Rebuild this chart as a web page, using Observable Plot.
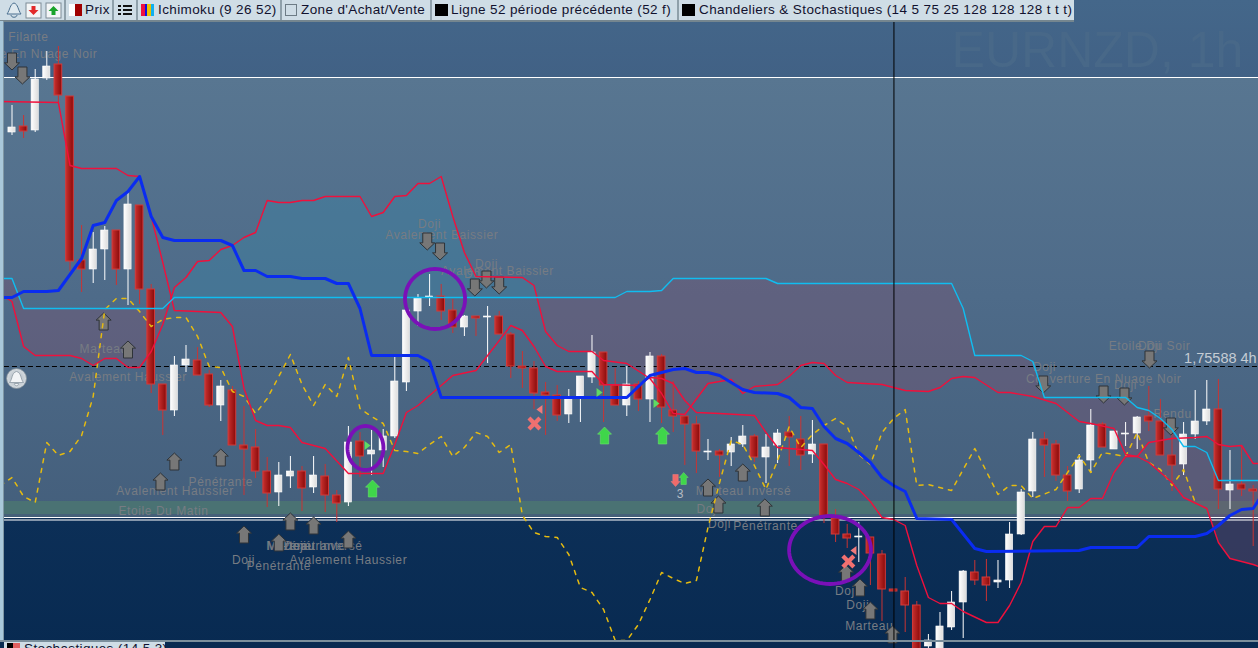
<!DOCTYPE html>
<html><head><meta charset="utf-8">
<script src="https://cdn.jsdelivr.net/npm/d3@7"></script>
<script src="https://cdn.jsdelivr.net/npm/@observablehq/plot@0.6"></script>
<style>
html,body{margin:0;padding:0;width:1258px;height:648px;overflow:hidden;background:#0a2c54;font-family:"Liberation Sans",Arial,sans-serif}
#wrap{position:relative;width:1258px;height:648px;overflow:hidden}
#wrap>svg{position:absolute;left:0;top:0;display:block}
.bar{position:absolute;left:0;top:0;width:1074px;height:20px;background:#cfdde6;border-bottom:2px solid #75868f}
.sep{position:absolute;top:0;width:2px;height:20px;background:#8fa0aa}
.lab{position:absolute;top:2px;font-size:13.5px;letter-spacing:.38px;color:#11112e;white-space:nowrap;line-height:16px}
.sw{position:absolute;top:4px;height:12px;width:13px;background:#000}
.strip{position:absolute;left:0;top:21px;width:3px;height:620px;background:#a9c8da;border-right:1px solid #7f97a5}
.foot{position:absolute;left:0;top:640px;width:1258px;height:2px;background:#7b8f9c}
.tab{position:absolute;left:4px;top:642px;width:161px;height:8px;background:#cfdde6}
.pat text{letter-spacing:.58px}
</style></head><body><div id="wrap"></div>
<script>
// Prices are pips from the 1,75588 reference line; bars are counted from the first visible candle.
const candleColors = "W R W W R R R W W R W R R R W W R R W R R R R W W R W R R W R W W W W W W R R W R W R R R R R R W W W R R W R W R R R R W R W W R W W R R W R R R W R R R R R W W W W R R W W W W R R R W W R W W W R R R W W W R W R R".split(" ");
const highs = [261,251,297,315,320,270,141,134,140,136,174,161,82,-18,10,21,19,-4,-14,-20,-40,-63,-91,-96,-90,-100,-90,-98,-124,-60,-66,-64,-63,9,56,72,92,82,67,51,50,60,55,34,15,5,-16,-19,-23,-10,31,14,-2,0,-15,14,12,-15,-50,-50,-73,-83,-71,-59,-68,-68,-63,-50,-50,-54,-78,-143,-158,-156,-171,-184,-223,-211,-235,-268,-246,-225,-204,-194,-193,-194,-156,-123,-66,-66,-74,-100,-88,-43,-56,-65,-56,-50,-20,-33,-54,-56,-24,-14,-13,-84,-79,-119];
const bodyTops = [239,240,287,300,302,270,106,117,136,136,162,161,77,-18,1,7,6,-8,-20,-24,-79,-81,-105,-109,-105,-105,-109,-110,-129,-76,-75,-84,-70,-15,56,68,70,70,56,50,50,50,50,32,0,-2,-26,-29,-31,-10,14,14,-19,-18,-18,10,10,-44,-50,-58,-85,-85,-78,-70,-70,-81,-67,-66,-73,-78,-78,-152,-168,-170,-171,-188,-223,-225,-239,-274,-260,-236,-205,-206,-211,-214,-168,-126,-73,-73,-78,-109,-94,-59,-58,-65,-67,-51,-50,-55,-89,-68,-55,-43,-43,-118,-118,-123];
const bodyBottoms = [234,235,236,288,271,105,97,97,117,97,97,77,-18,-44,-44,1,-9,-39,-39,-79,-83,-105,-127,-126,-110,-122,-121,-129,-137,-136,-90,-88,-84,-70,-16,55,69,55,39,39,48,49,32,0,-2,-27,-29,-49,-48,-30,-11,-19,-39,-39,-33,-33,-41,-50,-58,-85,-86,-89,-86,-78,-91,-91,-79,-71,-89,-88,-150,-168,-172,-171,-187,-223,-225,-239,-284,-280,-284,-261,-236,-214,-219,-216,-214,-168,-125,-79,-109,-125,-123,-94,-81,-83,-68,-67,-55,-89,-99,-98,-68,-55,-123,-124,-123,-125];
const lows = [231,228,234,286,264,95,74,83,86,81,61,62,-27,-69,-50,-6,-9,-41,-55,-79,-129,-112,-141,-140,-122,-145,-127,-146,-156,-140,-111,-109,-101,-72,-25,40,60,46,33,30,30,3,32,-12,-22,-43,-69,-55,-57,-56,-17,-56,-39,-50,-45,-56,-57,-66,-99,-107,-94,-111,-100,-81,-96,-117,-97,-100,-104,-97,-157,-176,-182,-196,-219,-255,-225,-266,-284,-284,-284,-264,-272,-219,-235,-222,-222,-169,-131,-111,-115,-135,-127,-107,-81,-83,-80,-83,-65,-89,-125,-109,-73,-59,-143,-143,-130,-180];
const redABars = [-1,0,1,2,5,6,7,8,9,10,11,12,13,14,15,16,17,18,19,20,21,22,23,24,25,26,27,30,31,32,33,34,35,36,37,38,39,40,44,45,46,47,48,50,51,53,55,56,57,58,60,62,63,64,66,67,68,69,70,71,72,75,77,79,80,81,82,83,85,86,88,90,92,93,95,96,97,98,100,101,103,104,105,107,108];
const redAValues = [72,65,20,11,11,8,1,8,8,-1,-1,15,42,79,89,105,106,117,121,129,134,166,164,164,166,166,170,170,150,154,170,171,183,183,190,150,114,90,89,81,35,21,15,15,6,3,-12,-27,-47,-48,-17,-13,-27,-20,-18,-10,1,4,3,-9,-16,-18,-24,-25,-21,-12,-10,-11,-26,-26,-30,-37,-55,-57,-62,-88,-90,-96,-116,-131,-142,-176,-192,-198,-202];
const redBBars = [-1,4,5,6,9,10,11,12,13,14,18,19,20,21,22,23,24,25,27,29,32,33,34,35,38,40,43,44,45,46,47,50,51,54,55,56,57,58,59,61,64,65,66,69,70,71,72,73,74,75,76,77,78,79,80,81,82,84,85,86,87,88,89,90,91,92,93,94,95,96,97,98,100,102,103,104,105,106,107,108];
const redBValues = [265,264,201,198,198,191,190,150,104,56,54,40,-22,-54,-59,-59,-61,-76,-82,-107,-107,-78,-46,-39,-9,-4,41,36,20,0,-5,-5,-18,-19,-11,-12,-17,-34,-46,-47,-49,-66,-81,-84,-98,-113,-117,-123,-135,-151,-153,-159,-199,-231,-237,-237,-245,-256,-256,-239,-216,-175,-160,-160,-141,-141,-132,-132,-106,-90,-90,-76,-72,-71,-70,-78,-80,-79,-97,-97];
const cyanBars = [-1,0,1,13,14,52,53,55,56,57,65,66,81,82,83,87,88,89,96,97,98,99,100,101,102,103,104,108];
const cyanValues = [88,88,58,58,69,69,75,75,76,88,88,83,83,58,11,11,5,-31,-31,-41,-44,-52,-63,-80,-80,-86,-114,-114];
const blueBars = [-1,0,1,3,4,6,7,8,9,10,11,12,13,14,18,19,20,21,22,24,25,27,28,29,30,31,35,36,37,53,55,57,58,59,60,61,63,64,66,67,68,69,70,71,72,73,74,75,76,77,78,81,83,84,92,93,97,98,102,103,104,105,106,107,108];
const blueValues = [69,69,75,75,76,108,141,144,166,175,190,150,129,126,126,121,96,96,90,90,88,88,83,83,58,11,11,5,-31,-31,-9,-3,-2,-6,-6,-9,-23,-26,-27,-31,-41,-42,-60,-72,-77,-86,-96,-111,-119,-125,-152,-153,-182,-185,-184,-181,-181,-170,-170,-167,-159,-149,-143,-142,-124];
const laggingBars = [-1,0,1,2,3,4,5,6,7,8,9,10,11,12,13,14,15,16,17,18,19,20,21,22,23,24,25,26,27,28,29,30,31,32,33,34,35,36,37,38,39,40,41,42,43,44,45,46,47,48,49,50,51,52,53,54,55,56,57,58,59,60,61,62,63,64,65,66,67,68,69,70,71,72,73,74,75,76,77,78,79,81,83,85,86,87,88,90,91,92,93,94,96,97,98,99,100,101,102];
const laggingValues = [-119,-111,-130,-136,-76,-89,-85,-69,-30,57,68,68,55,40,47,49,49,30,0,-1,-25,-30,-47,-32,-10,12,-18,-39,-18,-30,9,-42,-50,-57,-84,-85,-87,-78,-70,-90,-81,-66,-70,-86,-78,-149,-166,-170,-171,-188,-221,-226,-243,-274,-274,-258,-233,-206,-212,-217,-214,-161,-116,-74,-78,-99,-123,-94,-60,-81,-68,-59,-52,-60,-88,-98,-66,-52,-43,-119,-118,-124,-82,-128,-119,-119,-132,-123,-106,-89,-106,-86,-90,-66,-96,-103,-119,-103,-136];
const cloudCrossBars = [13.6,45.26];
const cloudCrossValues = [65,69];
const patternLabels = ["Etoile Filante","Couverture En Nuage Noir","Marteau","Avalement Haussier","Avalement Haussier","Pénétrante","Etoile Du Matin","Doji","Pénétrante","Marteau","Doji","Pénétrante","Marteau Inversé","Avalement Haussier","Doji","Avalement Baissier","Doji","Avalement Baissier","Doji","Marteau Inversé","Doji","Doji","Pénétrante","Doji","Doji","Marteau","Doji","Couverture En Nuage Noir","Doji","Etoile Du Soir","Doji","Rendu"];
const patternBars = [-0.2,0.65,7.9,10,14.05,18,13.06,19.96,23,24,24.4,26,26.1,29,36,37.05,40.9,41.85,39.95,63.06,60,61,64.96,71.94,72.9,73.9,89,94.1,96,98.06,98.06,100.05];
const patternLevels = [329,312,17,-11,-125,-116,-145,-194,-200,-180,-180,-180,-180,-194,142,131,102,95,92,-125,-143,-158,-160,-225,-239,-260,-1,-13,-19,20,20,-48];
const upBars = [7.9,10,12.8,14,18,20,23,24,26,29,60,60.9,63,64.9,71.9,73.1,74,75.9];
const upLevels = [45,17,-115,-95,-91,-168,-176,-155,-159,-173,-121,-138,-106,-141,-207,-221,-244,-268];
const downBars = [0,0.9,35.8,36.9,39.9,40.9,42,88.9,94.1,95.9,98.06,99.9];
const downLevels = [305,291,125,115,79,87,81,-18,-28,-30,7,-60];
const buyBars = [31.08,51.08,56.08];
const buyLevels = [-122,-69,-69];
const flagBars = [30.65,50.65,55.56];
const flagLevels = [-79,-26,-37];
const sellFlagBars = [45.47,72.54];
const sellFlagLevels = [-43,-184];
const crossBars = [45.04,72.1];
const crossLevels = [-57,-195];
const ringBars = [30.47,36.47,70.52];
const ringLevels = [-81.5,67.5,-183.5];
const ringBarRadii = [1.55,2.59,3.53];
const ringLevelRadii = [22,30,34];

// custom symbols
const arrowSym = (w,h,up) => ({draw(c){
  const s = up ? 1 : -1, a = w/2, b = w*0.3, t = h*0.42;
  c.moveTo(0,-s*h/2); c.lineTo(a,-s*h/2+s*t); c.lineTo(b,-s*h/2+s*t); c.lineTo(b,s*h/2);
  c.lineTo(-b,s*h/2); c.lineTo(-b,-s*h/2+s*t); c.lineTo(-a,-s*h/2+s*t); c.closePath();
}});
const triSym = (w,h,dir) => ({draw(c){ c.moveTo(-dir*w/2,-h/2); c.lineTo(dir*w/2,0); c.lineTo(-dir*w/2,h/2); c.closePath(); }});
const xSym = {draw(c){
  const a=7,b=3;
  c.moveTo(-a,-a+b);c.lineTo(-a+b,-a);c.lineTo(0,-b);c.lineTo(a-b,-a);c.lineTo(a,-a+b);c.lineTo(b,0);
  c.lineTo(a,a-b);c.lineTo(a-b,a);c.lineTo(0,b);c.lineTo(-a+b,a);c.lineTo(-a,a-b);c.lineTo(-b,0);c.closePath();
}};
const bellSym = {draw(c){
  c.moveTo(0,-7);c.bezierCurveTo(-5,-6,-4,1,-7,4);c.lineTo(7,4);c.bezierCurveTo(4,1,5,-6,0,-7);c.closePath();
  c.moveTo(-2,5);c.bezierCurveTo(-2,8,2,8,2,5);c.closePath();
}};

// tables built from the arrays
const candles = highs.map((h,i)=>({bar:i,color:candleColors[i],high:h,top:bodyTops[i],bottom:bodyBottoms[i],low:lows[i]}));
const white = candles.filter(d=>d.color==="W"), red = candles.filter(d=>d.color==="R");
const zipAB = redABars.map((b,i)=>({b,v:redAValues[i]}));
const zipCy = cyanBars.map((b,i)=>({b,v:cyanValues[i]}));
const cross = cloudCrossBars.map((b,i)=>({b,v:cloudCrossValues[i]}));
const region = (lo,hi,pre,post) => [...pre,...zipAB.filter(d=>d.b>=lo&&d.b<=hi),...post,...zipCy.filter(d=>d.b>=lo&&d.b<=hi).reverse()];
const cloudLeft = region(-1,13,[],[cross[0]]);
const cloudMid = region(14,45,[cross[0]],[cross[1]]);
const cloudRight = region(46,108,[cross[1]],[]);
const rings = ringBars.map((b,k)=>d3.range(0,73).map(j=>({k,b:b+ringBarRadii[k]*Math.cos(j/72*2*Math.PI),v:ringLevels[k]+ringLevelRadii[k]*Math.sin(j/72*2*Math.PI)}))).flat();
const pts = (xs,ys)=>xs.map((b,i)=>({b,v:ys[i]}));
const band = (y1,y2,fill)=>Plot.rect([{}],{x1:()=>-1,x2:()=>108,y1:()=>y1,y2:()=>y2,fill});
const labelFill = "#777c83";

const chart = Plot.plot({
  width:1258,height:648,margin:0,
  x:{domain:[-0.9914,107.457],axis:null},
  y:{domain:[-282,366],axis:null},
  style:{background:"transparent",fontFamily:"'Liberation Sans',Arial,sans-serif"},
  marks:[
    band(289,366,"url(#gTop)"),
    band(-148,289,"url(#gMain)"),
    band(-148,-135,"#4a7273"),
    band(-148,-151,"#456079"),
    band(-282,-153,"url(#gLow)"),
    Plot.text(["EURNZD, 1h"],{x:()=>81,y:()=>316,text:d=>d,textAnchor:"start",lineAnchor:"middle",fontSize:50,fill:"#486888"}),
    Plot.line(cloudLeft,{x:"b",y:"v",fill:"rgba(130,80,110,.35)",stroke:"none"}),
    Plot.line(cloudMid,{x:"b",y:"v",fill:"rgba(60,130,165,.42)",stroke:"none"}),
    Plot.line(cloudRight,{x:"b",y:"v",fill:"rgba(130,80,110,.35)",stroke:"none"}),
    Plot.ruleY([289,-151,-153.5],{stroke:"#fff",strokeWidth:1}),
    Plot.ruleY([0],{x1:()=>-0.65,x2:()=>108,stroke:"#000",strokeWidth:1,strokeDasharray:"5,3"}),
    Plot.text(["1,75588 4h"],{x:()=>107.3,y:()=>8,text:d=>d,textAnchor:"end",fontSize:14.5,fill:"#c4ccd4"}),
    // patterns
    Plot.text(patternLabels,{x:patternBars,y:patternLevels,text:d=>d,fontSize:12,fill:labelFill,className:"pat"}),
    Plot.text(["3"],{x:()=>57.6,y:()=>-128,text:d=>d,fontSize:12,fill:"#b4bcc4"}),
    // candles
    Plot.ruleX(red,{x:"bar",y1:"low",y2:"high",stroke:"#c93434",strokeWidth:1}),
    Plot.ruleX(white,{x:"bar",y1:"low",y2:"high",stroke:"#fff",strokeWidth:1}),
    Plot.rect(red,{x1:d=>d.bar-0.33,x2:d=>d.bar+0.33,y1:"bottom",y2:"top",fill:"url(#gRed)",stroke:"#d23a3a",strokeWidth:1}),
    Plot.rect(white,{x1:d=>d.bar-0.31,x2:d=>d.bar+0.31,y1:"bottom",y2:"top",fill:"url(#gWhite)",stroke:"#fff",strokeWidth:.6}),
    // arrows
    Plot.dot(pts(upBars,upLevels),{x:"b",y:"v",symbol:arrowSym(15,17,true),fill:"#777",stroke:"#2e3338",strokeWidth:1}),
    Plot.dot(pts(downBars,downLevels),{x:"b",y:"v",symbol:arrowSym(15,17,false),fill:"#777",stroke:"#2e3338",strokeWidth:1}),
    // indicator lines
    Plot.line(pts(laggingBars,laggingValues),{x:"b",y:"v",stroke:"#e6bb10",strokeWidth:1.5,strokeDasharray:"4,6"}),
    Plot.line(pts(redABars,redAValues),{x:"b",y:"v",stroke:"#f0103c",strokeWidth:1.4}),
    Plot.line(pts(redBBars,redBValues),{x:"b",y:"v",stroke:"#f0103c",strokeWidth:1.4}),
    Plot.line(pts(cyanBars,cyanValues),{x:"b",y:"v",stroke:"#10bdf0",strokeWidth:1.4}),
    Plot.line(pts(blueBars,blueValues),{x:"b",y:"v",stroke:"#0a2cf0",strokeWidth:3}),
    // signals
    Plot.dot(pts(buyBars,buyLevels),{x:"b",y:"v",symbol:arrowSym(14,17,true),fill:"#3fd64a",stroke:"#6fe070",strokeWidth:.6}),
    Plot.dot([{b:57.9,v:-112}],{x:"b",y:"v",symbol:arrowSym(9,12,true),fill:"#3fd64a",stroke:"#6fe070",strokeWidth:.5}),
    Plot.dot([{b:57.2,v:-114}],{x:"b",y:"v",symbol:arrowSym(9,12,false),fill:"#f06a6a",stroke:"#f08080",strokeWidth:.5}),
    Plot.dot(pts(flagBars,flagLevels),{x:"b",y:"v",symbol:triSym(6,9,1),fill:"#5fdb62"}),
    Plot.dot(pts(sellFlagBars,sellFlagLevels),{x:"b",y:"v",symbol:triSym(6,9,-1),fill:"#f07a7a"}),
    Plot.dot(pts(crossBars,crossLevels),{x:"b",y:"v",symbol:xSym,fill:"#f07070"}),
    // circles, cursor, bell
    Plot.line(rings,{x:"b",y:"v",z:"k",stroke:"#7a10b8",strokeWidth:3.8}),
    Plot.ruleX([76.03],{y1:()=>-282,y2:()=>345,stroke:"#000",strokeWidth:1}),
    Plot.dot([{b:0.39,v:-12}],{x:"b",y:"v",r:10,fill:"url(#gBell)",stroke:"#7d8b96",strokeWidth:.8}),
    Plot.dot([{b:0.39,v:-12}],{x:"b",y:"v",symbol:bellSym,fill:"#f2f4f6",stroke:"#8d99a3",strokeWidth:.8})
  ]
});
chart.insertAdjacentHTML("afterbegin",`<defs>
<linearGradient id="gTop" x1="0" x2="0" y1="0" y2="1"><stop offset="0" stop-color="#44678a"/><stop offset="1" stop-color="#416185"/></linearGradient>
<linearGradient id="gMain" x1="0" x2="0" y1="0" y2="1"><stop offset="0" stop-color="#587691"/><stop offset=".5" stop-color="#4e6b89"/><stop offset="1" stop-color="#445f7c"/></linearGradient>
<linearGradient id="gLow" x1="0" x2="0" y1="0" y2="1"><stop offset="0" stop-color="#0c2f57"/><stop offset="1" stop-color="#082a51"/></linearGradient>
<linearGradient id="gRed" x1="0" x2="1" y1="0" y2="0"><stop offset="0" stop-color="#c8302e"/><stop offset="1" stop-color="#8a0a0a"/></linearGradient>
<linearGradient id="gWhite" x1="0" x2="1" y1="0" y2="0"><stop offset="0" stop-color="#ffffff"/><stop offset="1" stop-color="#dcdcdc"/></linearGradient>
<radialGradient id="gBell"><stop offset="0" stop-color="#aab4bd"/><stop offset="1" stop-color="#d5dbe0"/></radialGradient>
</defs>`);
const wrap = document.getElementById("wrap");
wrap.appendChild(chart);
const seps=[64,112,136,280,430,677];
const items=[["Prix",85],["Ichimoku (9 26 52)",158],["Zone d'Achat/Vente",301],["Ligne 52 période précédente (52 f)",451],["Chandeliers & Stochastiques (14 5 75 25 128 128 128 t t t)",699]];
let h='<div class="bar">';
seps.forEach(x=>h+=`<div class="sep" style="left:${x}px"></div>`);
items.forEach(([t,x])=>h+=`<div class="lab" style="left:${x}px">${t.replace("&","&amp;")}</div>`);
h+=`<div class="sw" style="left:69px;background:linear-gradient(90deg,#fff 0 50%,#a00000 50% 100%)"></div>`;
h+=`<div class="sw" style="left:141px;background:linear-gradient(90deg,#f01040 0 33%,#1010e0 33% 50%,#f0c000 50% 75%,#10b0f0 75% 100%)"></div>`;
h+=`<div class="sw" style="left:285px;background:#cfdde6;border:1px solid #6d7c86;width:10px;height:10px"></div>`;
h+=`<div class="sw" style="left:435px"></div><div class="sw" style="left:682px"></div>`;
h+=`<svg style="position:absolute;left:4px;top:1px" width="60" height="18" viewBox="0 0 60 18">
<path d="M10 2c-4 1-4 7-7 11h14c-3-4-3-10-7-11z" fill="#dfe9ef" stroke="#4a6f8f"/><path d="M7 14c0 3 6 3 6 0" fill="none" stroke="#4a6f8f"/>
<rect x="22" y="2" width="15" height="15" fill="#f3f5f6" stroke="#7d8b96"/><path d="M29.5 14l-5-5h3V5h4v4h3z" fill="#e22a2a"/>
<rect x="42" y="2" width="15" height="15" fill="#f3f5f6" stroke="#7d8b96"/><path d="M49.5 5l5 5h-3v4h-4v-4h-3z" fill="#1aa32a"/></svg>`;
h+=`<svg style="position:absolute;left:118px;top:4px" width="14" height="12"><path d="M0 1h3v2H0zM5 1h9v2H5zM0 5h3v2H0zM5 5h9v2H5zM0 9h3v2H0zM5 9h9v2H5z" fill="#111"/></svg>`;
h+='</div><div class="strip"></div><div class="foot"></div>';
h+='<div class="tab"><div class="sw" style="left:3px;top:1px;background:linear-gradient(90deg,#000 50%,#e06060 50%)"></div><div class="lab" style="left:20px;top:-1px">Stochastiques (14 5 3)</div></div>';
wrap.insertAdjacentHTML("beforeend",h);
</script></body></html>
